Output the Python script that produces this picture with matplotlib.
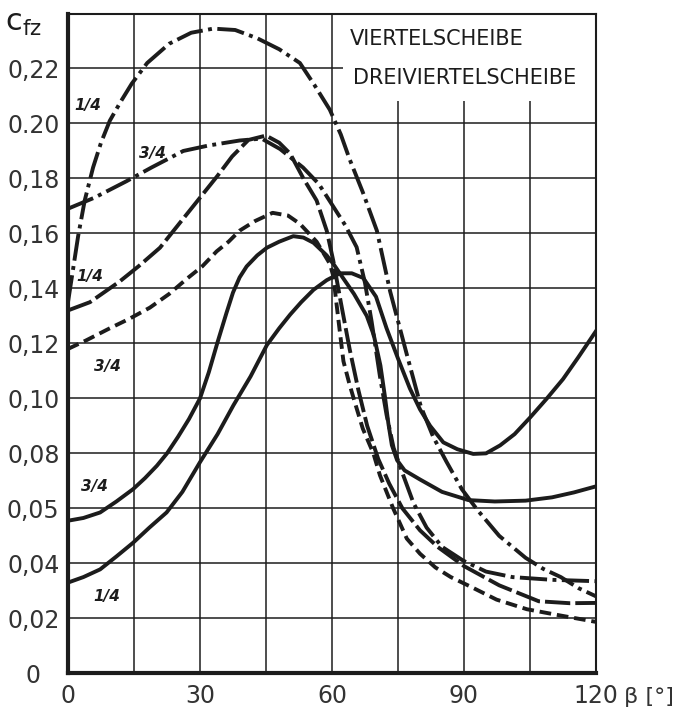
import numpy as np
import matplotlib.pyplot as plt

# curve values (beta in degrees, c_fz)
a_beta = [0, 1.2, 2.3, 3.8, 5.7, 7.5, 9.5, 12, 14.5, 18, 23, 28, 33, 38, 43, 48, 52.7, 56,
          59.5, 62, 64, 67, 70.2, 73.2, 77, 80.2, 83, 86, 89.5, 93, 98, 104, 108, 112, 116, 120]
a_c = [0.135, 0.1475, 0.159, 0.172, 0.184, 0.193, 0.201, 0.208, 0.2145, 0.222, 0.229, 0.233,
       0.2345, 0.234, 0.231, 0.227, 0.222, 0.214, 0.205, 0.196, 0.187, 0.175, 0.161, 0.139,
       0.116, 0.097, 0.086, 0.077, 0.067, 0.0595, 0.050, 0.042, 0.038, 0.035, 0.031, 0.028]

b_beta = [0, 6, 13.3, 19, 26.2, 32, 39, 44, 48.2, 53.4, 57, 60.2, 63, 65.6, 67.5, 69, 70.9,
          72.4, 74, 76.2, 78.5, 81.5, 85, 89.8, 95, 101, 110, 120]
b_c = [0.169, 0.173, 0.179, 0.184, 0.190, 0.192, 0.1938, 0.1945, 0.1907, 0.184, 0.178, 0.170,
       0.163, 0.155, 0.142, 0.128, 0.108, 0.094, 0.082, 0.072, 0.062, 0.053, 0.046, 0.041,
       0.037, 0.035, 0.034, 0.0335]

c_beta = [0, 5, 11.8, 16, 20.9, 25, 30, 34, 37.3, 41, 45, 48, 50.5, 53.5, 56.5, 58.8, 60.3,
          62, 64, 66, 68, 70.5, 73, 76, 80, 84, 90, 98, 107, 114, 120]
c_c = [0.132, 0.135, 0.1426, 0.148, 0.1548, 0.163, 0.173, 0.181, 0.188, 0.194, 0.1956, 0.193,
       0.189, 0.180, 0.172, 0.161, 0.150, 0.135, 0.118, 0.103, 0.090, 0.078, 0.069, 0.060,
       0.052, 0.046, 0.039, 0.032, 0.0262, 0.0255, 0.0256]

d_beta = [0, 4, 9.5, 14, 18.6, 23, 27, 30.5, 33.8, 36.5, 39, 42.5, 46.5, 50, 52.7, 56.5, 59.5,
          60.3, 60.8, 61.5, 62.6, 64, 65.2, 67, 69.4, 70.9, 73.9, 77, 80, 83.5, 87, 91.4, 97.4,
          104.3, 112, 120]
d_c = [0.118, 0.121, 0.1255, 0.129, 0.133, 0.138, 0.1435, 0.148, 0.1535, 0.157, 0.161, 0.1645,
       0.1675, 0.1665, 0.1635, 0.157, 0.149, 0.1445, 0.1375, 0.128, 0.1135, 0.105, 0.0985,
       0.089, 0.080, 0.072, 0.060, 0.049, 0.0435, 0.0385, 0.035, 0.0316, 0.0268, 0.0233,
       0.021, 0.0187]

e_beta = [0, 3.5, 7.3, 11, 14.8, 17.5, 20.2, 22.5, 25, 27.5, 30, 32, 34, 36, 37.5, 39, 40.6,
          43, 45.2, 48, 51.2, 53.5, 55.8, 58.8, 60.5, 62.5, 65, 67.9, 69.5, 71, 72, 72.8, 73.6,
          74.8, 76.5, 80, 85, 91, 97, 104, 110, 115, 120]
e_c = [0.0555, 0.0565, 0.0585, 0.0625, 0.067, 0.071, 0.0755, 0.080, 0.086, 0.0925, 0.100,
       0.1095, 0.1205, 0.131, 0.1385, 0.144, 0.148, 0.152, 0.1548, 0.157, 0.159, 0.1585,
       0.1566, 0.152, 0.1485, 0.1438, 0.138, 0.130, 0.123, 0.112, 0.101, 0.091, 0.083,
       0.0775, 0.0738, 0.0705, 0.066, 0.063, 0.0625, 0.0628, 0.064, 0.0658, 0.068]

f_beta = [0, 3.5, 7.3, 11, 14.8, 18.5, 22.4, 26, 30, 34, 37.6, 41.5, 45.2, 48, 50.5, 53, 55.8,
          58.8, 61.8, 64.5, 67.1, 70, 72.4, 75, 77.7, 80, 82.3, 85.3, 88.5, 92.1, 95, 98.2,
          101.5, 105, 108.8, 112.5, 116, 120]
f_c = [0.033, 0.035, 0.0378, 0.0425, 0.0475, 0.053, 0.0585, 0.066, 0.0768, 0.087, 0.0975,
       0.108, 0.1194, 0.1255, 0.1305, 0.135, 0.1395, 0.143, 0.1455, 0.1455, 0.1438, 0.137,
       0.1255, 0.1145, 0.1036, 0.096, 0.090, 0.084, 0.0815, 0.0798, 0.080, 0.0829, 0.087,
       0.093, 0.0999, 0.107, 0.115, 0.1245]

y_ticks = [0, 0.02, 0.04, 0.06, 0.08, 0.10, 0.12, 0.14, 0.16, 0.18, 0.20, 0.22]
y_labels = ['0', '0,02', '0,04', '0,05', '0,08', '0,10', '0,12', '0,14', '0,16', '0,18',
            '0.20', '0,22']
x_ticks = [0, 30, 60, 90, 120]
x_labels = ['0', '30', '60', '90', '120']

ink = '#1c1c1c'
fig = plt.figure(figsize=(6.84, 7.15), dpi=100)
ax = fig.add_axes([68/684, 1-673.3/715, 528/684, 659.8/715])
ax.set_xlim(0, 120)
ax.set_ylim(0, 0.24)

# grid (hand drawn in the original, partly cut under the legend text)
ax.hlines(y_ticks[1:-1], 0, 120, color=ink, lw=1.1, zorder=1)
ax.hlines(0.22, 0, 62.5, color=ink, lw=1.1, zorder=1)
ax.vlines([15, 30, 45, 60], 0, 0.24, color=ink, lw=1.1, zorder=1)
ax.vlines([75, 90, 105], 0, 0.208, color=ink, lw=1.1, zorder=1)

lw = 2.8
ax.plot(a_beta, a_c, color=ink, lw=lw, dashes=(7, 1.4, 1, 1.4))
ax.plot(b_beta, b_c, color=ink, lw=lw, dashes=(7, 1.4, 1, 1.4))
ax.plot(c_beta, c_c, color=ink, lw=lw, dashes=(6.5, 1.3))
ax.plot(d_beta, d_c, color=ink, lw=lw, dashes=(3, 1.5))
ax.plot(e_beta, e_c, color=ink, lw=lw, solid_joinstyle='round')
ax.plot(f_beta, f_c, color=ink, lw=lw, solid_joinstyle='round')

lab = dict(fontsize=11, fontweight='bold', style='italic', color=ink, ha='center', va='center')
ax.text(4.6, 0.2065, '1/4', **lab)
ax.text(19.1, 0.189, '3/4', **lab)
ax.text(5.0, 0.1445, '1/4', **lab)
ax.text(8.9, 0.1116, '3/4', **lab)
ax.text(6.1, 0.0678, '3/4', **lab)
ax.text(8.9, 0.0278, '1/4', **lab)

ax.text(64.1, 0.2306, 'VIERTELSCHEIBE', fontsize=15, color=ink, va='center', ha='left')
ax.text(64.8, 0.2167, 'DREIVIERTELSCHEIBE', fontsize=15, color=ink, va='center', ha='left')

for side in ['left', 'bottom']:
    ax.spines[side].set_linewidth(3)
for side in ['top', 'right']:
    ax.spines[side].set_linewidth(1.5)
for sp in ax.spines.values():
    sp.set_color(ink)

ax.set_yticks(y_ticks)
ax.set_yticklabels(y_labels, fontsize=17, color='#333333')
ax.set_xticks(x_ticks)
ax.set_xticklabels(x_labels, fontsize=17, color='#333333')
ax.tick_params(axis='y', length=0, pad=25)
ax.tick_params(axis='x', length=0, pad=8)
for t in ax.get_yticklabels():
    t.set_horizontalalignment('center')

fig.text(5/684, 1-24/715, r'$\mathrm{c}_{\mathrm{fz}}$', fontsize=22, color=ink, va='center')
fig.text(624/684, 1-697/715, 'β [°]', fontsize=16, color='#333333', va='center')

plt.savefig('out.png', dpi=100)
